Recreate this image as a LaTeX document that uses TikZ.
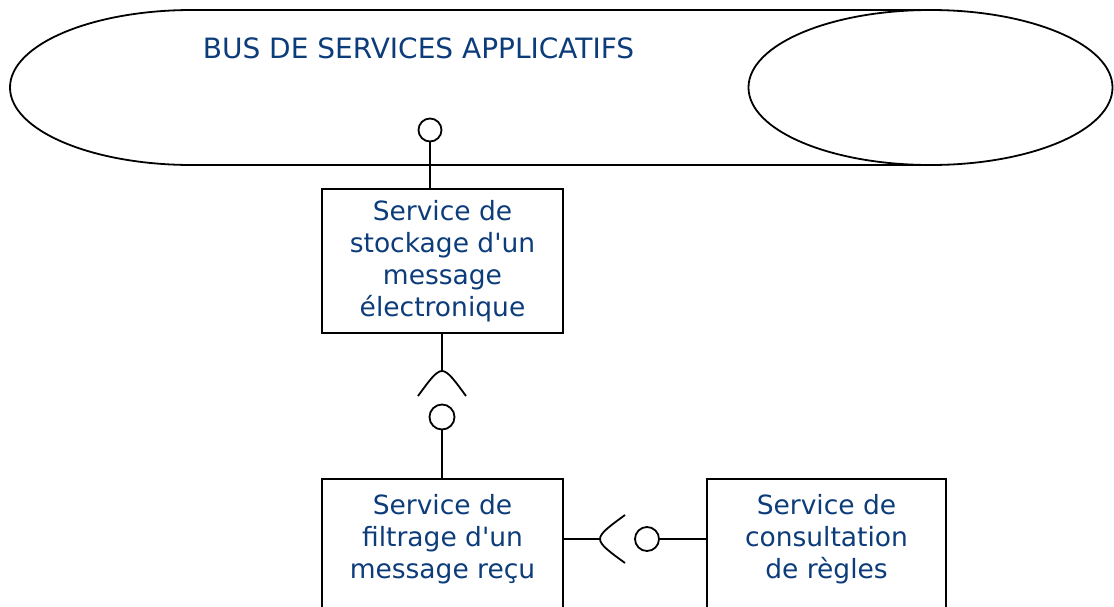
\documentclass[tikz,border=0pt]{standalone}
\usepackage{fontspec}
\setmainfont{DejaVu Sans}
\definecolor{txtblue}{RGB}{12,60,122}
\newcommand{\apos}{\textquotesingle}
\begin{document}
\begin{tikzpicture}[x=1pt,y=-1pt,
  line/.style={line width=1.8pt, draw=black},
  box/.style={draw=black, line width=1.9pt, rectangle, inner sep=0pt},
  lbl/.style={text=txtblue, font=\fontsize{26.5}{32}\selectfont, align=center, inner sep=0pt},
  lolli/.style={draw=black, circle, line width=1.8pt, minimum size=24pt, inner sep=0pt, fill=white}]
\useasboundingbox (0,0) rectangle (1114,606);
\clip (0,0) rectangle (1114,606);
% bus
\draw[line] (192,10) -- (930.5,10);
\draw[line] (192,165) -- (930.5,165);
\draw[line] (192,10) arc[start angle=90,end angle=270,x radius=182pt,y radius=77.5pt];
\draw[line] (930.5,87.5) ellipse[x radius=182pt,y radius=77.5pt];
\node[lbl, font=\fontsize{28}{32}\selectfont, anchor=base] (bus) at (418.5,58) {BUS DE SERVICES APPLICATIFS};
% boxes
\node[box, lbl, minimum width=241pt, minimum height=144pt] (stock) at (442.5,261) {Service de\\stockage d\apos un\\message\\électronique};
\node[box, minimum width=241pt, minimum height=200pt, anchor=north] (filt) at (442.5,478) {};
\node[lbl] (filttxt) at (442.5,539) {Service de\\filtrage d\apos un\\message reçu};
\node[box, minimum width=239pt, minimum height=200pt, anchor=north] (cons) at (826.5,478) {};
\node[lbl] (constxt) at (826.5,539) {Service de\\consultation\\de règles};
% bus interface
\node[lolli, minimum size=23pt] (l1) at (430,130) {};
\draw[line] (l1.south) -- (l1.south |- stock.north);
% socket 1
\coordinate (s1) at (442,371);
\draw[line] (s1 |- stock.south) -- (s1);
\draw[line, shift={(s1)}] (-24,25) .. controls (-13,10) and (-6,0) .. (0,0) .. controls (6,0) and (13,10) .. (24,25);
\node[lolli, minimum size=25pt] (l2) at (442,417) {};
\draw[line] (l2.south) -- (l2.south |- filt.north);
% socket 2
\coordinate (s2) at (600,539);
\draw[line] (s2 -| filt.east) -- (s2);
\draw[line, shift={(s2)}] (25,-24) .. controls (10,-13) and (0,-6) .. (0,0) .. controls (0,6) and (10,13) .. (25,24);
\node[lolli] (l3) at (647,539) {};
\draw[line] (l3.east) -- (l3 -| cons.west);
\end{tikzpicture}
\end{document}
